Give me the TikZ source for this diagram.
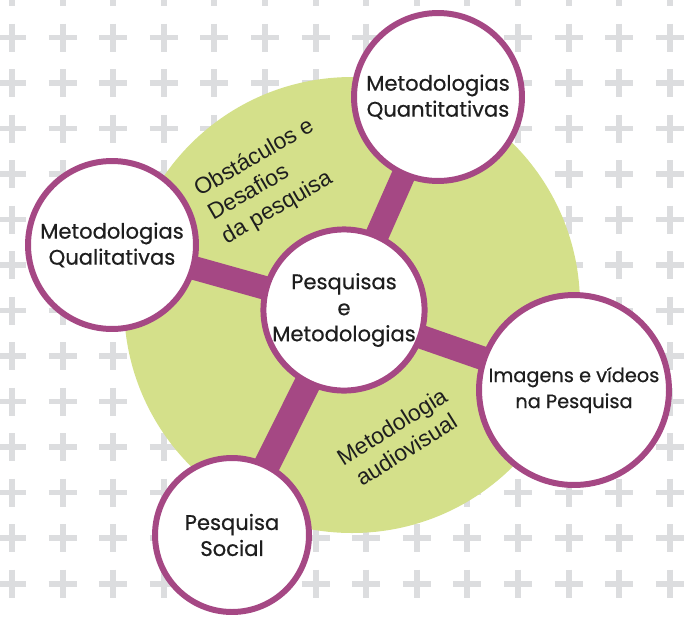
\documentclass[tikz,border=0pt]{standalone}
\usepackage{fontspec}
\setmainfont{Poppins}
\newfontfamily\topicfont{Poppins}[FakeBold=0.6]
\newfontfamily\notefont{Liberation Sans}
\usetikzlibrary{backgrounds}
\definecolor{plum}{RGB}{165,72,132}
\definecolor{lime}{RGB}{212,224,138}
\definecolor{crossgray}{RGB}{220,221,223}
\definecolor{ink}{RGB}{30,30,30}

\begin{document}
\begin{tikzpicture}[x=0.02cm,y=-0.02cm]
	\tikzset{topic/.style={circle,draw=plum,line width=3.4pt,fill=white,text=ink,align=center,inner sep=0pt,font=\topicfont\fontsize{12}{14.8}\selectfont}}
	\tikzset{link/.style={plum,line width=13.5pt}}
	\tikzset{note/.style={align=left,text=ink,font=\notefont\fontsize{13}{15.5}\selectfont}}
	\useasboundingbox (0,0) rectangle (685,619);
	
	% circles
	\node[topic,minimum size=3.16cm] (pm) at (344,310) {Pesquisas\\e\\Metodologias};
	\node[topic,minimum size=3.36cm] (quant) at (438,97) {Metodologias\\Quantitativas};
	\node[topic,minimum size=3.36cm] (qual) at (112,245) {Metodologias\\Qualitativas};
	\node[topic,minimum size=3.8cm,font=\topicfont\fontsize{11}{14.8}\selectfont] (img) at (574,390) {Imagens e vídeos\\na Pesquisa};
	\node[topic,minimum size=3.08cm] (soc) at (232,535) {Pesquisa\\Social};
	
	% notes on the green disc
	\node[note,rotate=30] (obst) at (268,182) {Obstáculos e\\Desafios\\da pesquisa};
	\node[note,align=center,rotate=32] (audio) at (399,438) {Metodologia\\audiovisual};
	
	\begin{scope}[on background layer]
	% grid of crosses
	\foreach \i in {0,...,13}
	\foreach \j in {0,...,13}
	\draw[crossgray,line width=3.4pt] (12+50.6*\i,-8+45.5*\j) +(-14,0) -- +(14,0) +(0,-14) -- +(0,14);
	
	\fill[lime] (352,305) circle [radius=228];
	
	\draw[link] (pm.center) -- (quant.center);
	\draw[link] (pm.center) -- (qual.center);
	\draw[link] (pm.center) -- (img.center);
	\draw[link,line width=15pt] (pm.center) -- (soc.center);
	\end{scope}
\end{tikzpicture}
\end{document}
